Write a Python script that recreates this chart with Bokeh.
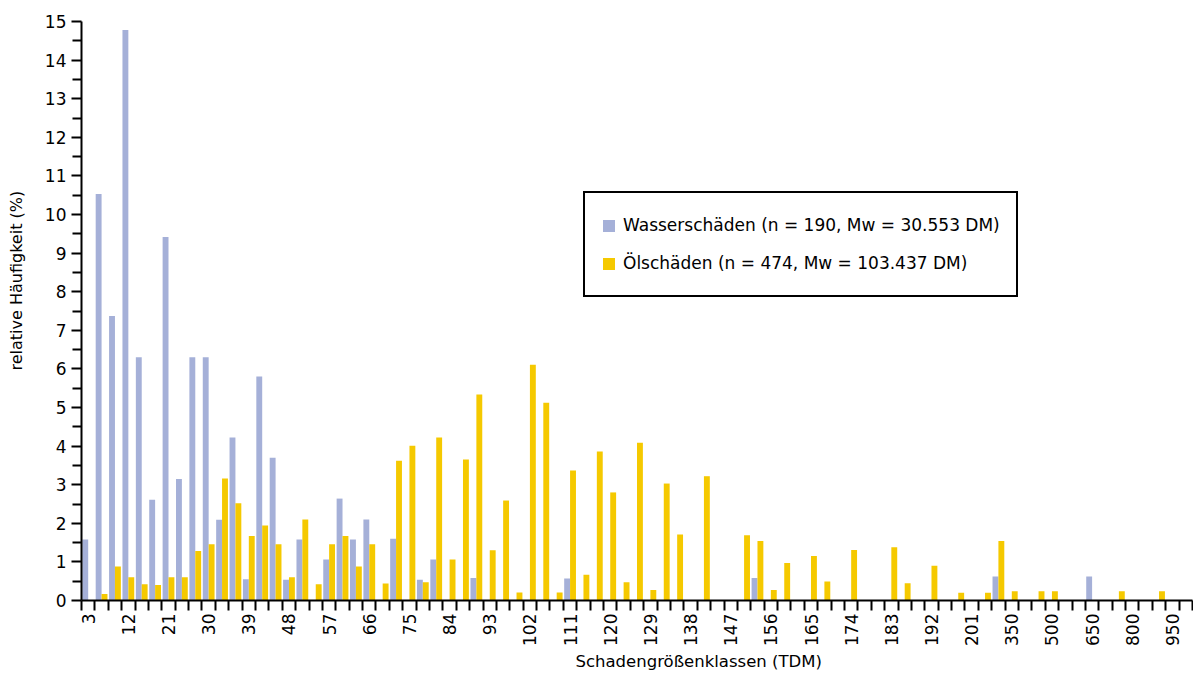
from math import pi
from bokeh.plotting import figure
from bokeh.models import (ColumnDataSource, Range1d, FixedTicker, Legend,
                          LegendItem, Title, LinearAxis)
from bokeh.transform import dodge
from bokeh.embed import file_html
from bokeh.resources import INLINE

# Schadengrößenklassen (TDM)
classes = ["3", "6", "9", "12", "15", "18", "21", "24", "27", "30",
           "33", "36", "39", "42", "45", "48", "51", "54", "57", "60",
           "63", "66", "69", "72", "75", "78", "81", "84", "87", "90",
           "93", "96", "99", "102", "105", "108", "111", "114", "117", "120",
           "123", "126", "129", "132", "135", "138", "141", "144", "147", "150",
           "153", "156", "159", "162", "165", "168", "171", "174", "177", "180",
           "183", "186", "189", "192", "195", "198", "201", "250", "300", "350",
           "400", "450", "500", "550", "600", "650", "700", "750", "800", "850",
           "900", "950", "1000"]

# relative Häufigkeit (%) Wasserschäden
wasser = [1.58, 10.53, 7.37, 14.78, 6.30, 2.61, 9.42, 3.15, 6.30, 6.30,
          2.09, 4.22, 0.55, 5.80, 3.70, 0.54, 1.58, 0.00, 1.06, 2.64,
          1.58, 2.10, 0.00, 1.60, 0.00, 0.54, 1.06, 0.00, 0.00, 0.58,
          0.00, 0.00, 0.00, 0.00, 0.00, 0.00, 0.57, 0.00, 0.00, 0.00,
          0.00, 0.00, 0.00, 0.00, 0.00, 0.00, 0.00, 0.00, 0.00, 0.00,
          0.58, 0.00, 0.00, 0.00, 0.00, 0.00, 0.00, 0.00, 0.00, 0.00,
          0.00, 0.00, 0.00, 0.00, 0.00, 0.00, 0.00, 0.00, 0.62, 0.00,
          0.00, 0.00, 0.00, 0.00, 0.00, 0.62, 0.00, 0.00, 0.00, 0.00,
          0.00, 0.00, 0.00]

# relative Häufigkeit (%) Ölschäden
oel = [0.00, 0.17, 0.88, 0.60, 0.42, 0.40, 0.60, 0.60, 1.28, 1.46,
       3.16, 2.52, 1.67, 1.94, 1.46, 0.60, 2.10, 0.42, 1.46, 1.67,
       0.88, 1.46, 0.44, 3.62, 4.01, 0.47, 4.22, 1.06, 3.65, 5.34,
       1.30, 2.59, 0.21, 6.11, 5.12, 0.21, 3.37, 0.67, 3.86, 2.80,
       0.47, 4.09, 0.27, 3.03, 1.71, 0.00, 3.22, 0.00, 0.00, 1.69,
       1.54, 0.27, 0.97, 0.00, 1.15, 0.49, 0.00, 1.31, 0.00, 0.00,
       1.38, 0.45, 0.00, 0.90, 0.00, 0.20, 0.00, 0.20, 1.54, 0.24,
       0.00, 0.24, 0.24, 0.00, 0.00, 0.00, 0.00, 0.24, 0.00, 0.00,
       0.24, 0.00, 0.00]

y_ticks = list(range(0, 16))
label_every = 3

series_names = ["Wasserschäden (n = 190, Mw = 30.553 DM)",
                "Ölschäden (n = 474, Mw = 103.437 DM)"]
x_title = "Schadengrößenklassen (TDM)"
y_title = "relative Häufigkeit (%)"

BLUE = "#a5b0d8"
YELLOW = "#f5c900"
FONT = "DejaVu Sans"

n = len(classes)
idx = list(range(n))
src = ColumnDataSource(dict(x=idx, cls=classes, wasser=wasser, oel=oel))

p = figure(width=1193, height=672, output_backend="svg", toolbar_location=None,
           x_range=Range1d(-0.5, n - 0.5), y_range=Range1d(0, 15),
           min_border_left=81, min_border_right=1, min_border_top=21,
           min_border_bottom=72)
p.outline_line_color = None
p.grid.visible = False
p.background_fill_color = "white"
p.border_fill_color = "white"

rw = p.vbar(x=dodge("x", -0.22), top="wasser", width=0.44, source=src,
            fill_color=BLUE, line_color=None)
ro = p.vbar(x=dodge("x", 0.22), top="oel", width=0.44, source=src,
            fill_color=YELLOW, line_color=None)

# x axis: ticks between classes, labels on every third class
xa = p.xaxis[0]
xa.ticker = FixedTicker(ticks=idx[::label_every],
                        minor_ticks=[i - 0.5 for i in range(n + 1)])
xa.major_label_overrides = {i: classes[i] for i in idx[::label_every]}
xa.major_label_orientation = pi / 2
xa.major_tick_line_color = None
xa.major_tick_out = 10
xa.major_tick_in = 0
xa.minor_tick_out = 10
xa.minor_tick_in = 0
xa.minor_tick_line_width = 2
xa.minor_tick_line_color = "black"
xa.axis_line_width = 2
xa.axis_line_color = "black"
xa.major_label_standoff = 3
xa.major_label_text_font = FONT
xa.major_label_text_font_size = "17px"
xa.major_label_text_color = "black"

ya = p.yaxis[0]
ya.ticker = FixedTicker(ticks=y_ticks,
                        minor_ticks=[t + 0.5 for t in y_ticks[:-1]])
ya.major_tick_out = 10
ya.major_tick_in = 0
ya.minor_tick_out = 9
ya.minor_tick_in = 0
ya.major_tick_line_width = 2
ya.minor_tick_line_width = 2
ya.major_tick_line_color = "black"
ya.minor_tick_line_color = "black"
ya.axis_line_width = 2
ya.axis_line_color = "black"
ya.major_label_standoff = 5
ya.major_label_text_font = FONT
ya.major_label_text_font_size = "17px"
ya.major_label_text_color = "black"

# invisible spacer axis: pushes the y title outward
spacer = LinearAxis(ticker=FixedTicker(ticks=[7.5]), axis_line_color=None,
                    major_tick_line_color=None, minor_tick_line_color=None,
                    major_tick_out=15, major_tick_in=0, minor_tick_out=0,
                    minor_tick_in=0, major_label_standoff=0,
                    major_label_overrides={7.5: ""},
                    major_label_text_alpha=0)
p.add_layout(spacer, "left")

p.add_layout(Title(text=y_title, align="left", offset=230,
                   vertical_align="middle", standoff=0, text_font=FONT,
                   text_font_size="16px", text_font_style="normal",
                   text_color="black"), "left")
p.add_layout(Title(text=x_title, align="left", offset=494,
                   vertical_align="bottom", standoff=3, text_font=FONT,
                   text_font_size="16.5px", text_font_style="normal",
                   text_color="black"), "below")

legend = Legend(items=[LegendItem(label=series_names[0], renderers=[rw]),
                       LegendItem(label=series_names[1], renderers=[ro])],
                location=(502, 303))
legend.label_text_font = FONT
legend.label_text_font_size = "17px"
legend.label_text_color = "black"
legend.border_line_color = "black"
legend.border_line_width = 2
legend.border_line_alpha = 1
legend.background_fill_color = "white"
legend.background_fill_alpha = 1
legend.padding = 16
legend.spacing = 6
legend.glyph_width = 15
legend.glyph_height = 15
legend.label_height = 32
legend.label_standoff = 7
legend.margin = 0
p.add_layout(legend)

open("out.html", "w").write(file_html(p, INLINE))
